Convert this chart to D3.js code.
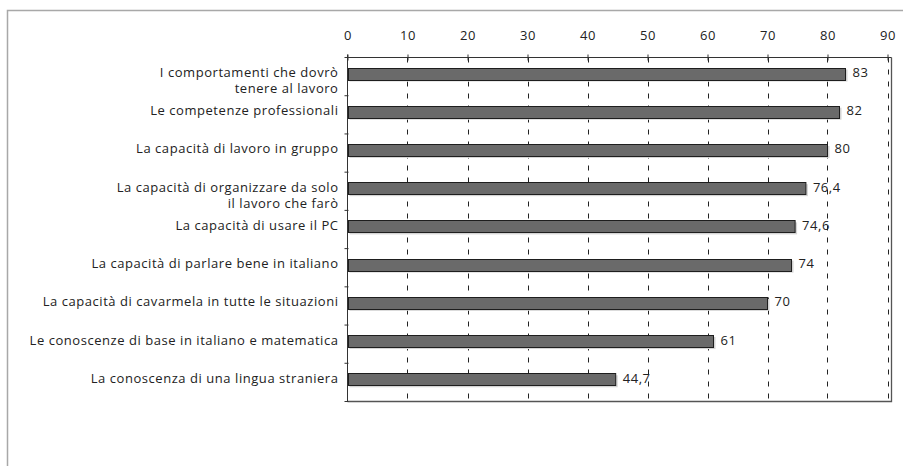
<!DOCTYPE html>
<html>
<head>
<meta charset="utf-8">
<script src="https://cdn.jsdelivr.net/npm/d3@7"></script>
<style>
  html, body { margin: 0; padding: 0; background: #fff; }
  svg { display: block; }
  text { font-family: "Open Sans", "DejaVu Sans", sans-serif; font-size: 13px; letter-spacing: 0.55px; fill: #222; }
</style>
</head>
<body>
<svg id="chart" width="903" height="466"></svg>
<script>
const categories = [
  ["I comportamenti che dovrò", "tenere al lavoro"],
  ["Le competenze professionali"],
  ["La capacità di lavoro in gruppo"],
  ["La capacità di organizzare da solo", "il lavoro che farò"],
  ["La capacità di usare il PC"],
  ["La capacità di parlare bene in italiano"],
  ["La capacità di cavarmela in tutte le situazioni"],
  ["Le conoscenze di base in italiano e matematica"],
  ["La conoscenza di una lingua straniera"]
];
const values = [83, 82, 80, 76.4, 74.6, 74, 70, 61, 44.7];
const valueLabels = ["83", "82", "80", "76,4", "74,6", "74", "70", "61", "44,7"];
const xTicks = [0, 10, 20, 30, 40, 50, 60, 70, 80, 90];

(function () {
const svg = d3.select("#chart");
const FONT = "Open Sans, DejaVu Sans, sans-serif";

// outer frame (only left and top visible)
svg.append("path").attr("d", "M7.5,466 V10.5 H903")
  .attr("fill", "none").attr("stroke", "#a8a8a8").attr("stroke-width", 1.5);

const pL = 347.5, pR = 887.5, pT = 57.5, pB = 401.5, boxRight = 891.5;
const x = d3.scaleLinear().domain([0, 90]).range([pL, pR]);
const y = d3.scaleBand().domain(d3.range(categories.length)).range([pT, pB]);

// gridlines
svg.append("g").selectAll("line").data(xTicks.slice(1)).join("line")
  .attr("x1", d => Math.round(x(d)) + 0.5).attr("x2", d => Math.round(x(d)) + 0.5)
  .attr("y1", pT).attr("y2", pB)
  .attr("stroke", "#222").attr("stroke-width", 1).attr("stroke-dasharray", "5,7");

// plot box (right and bottom)
svg.append("path").attr("d", `M${pL},${pB} H${boxRight} V${pT}`)
  .attr("fill", "none").attr("stroke", "#555").attr("stroke-width", 1.3);

// top axis
const xAxis = d3.axisTop(x).tickValues(xTicks).tickSize(3).tickPadding(15).tickFormat(d3.format("d"));
const gx = svg.append("g").attr("transform", `translate(0,${pT})`).call(xAxis);
gx.select(".domain").attr("d", `M${pL},0 H${boxRight}`).attr("stroke", "#333");
gx.selectAll(".tick line").attr("y1", -3).attr("y2", 3).attr("stroke", "#333");
gx.selectAll(".tick text").style("font-family", FONT).style("font-size", "13px").attr("fill", "#222");

// left axis with band boundary ticks
const bounds = d3.range(categories.length + 1).map(i => pT + i * y.step());
svg.append("line").attr("x1", pL).attr("x2", pL).attr("y1", pT - 3).attr("y2", pB)
  .attr("stroke", "#333");
svg.append("g").selectAll("line").data(bounds).join("line")
  .attr("x1", pL - 3).attr("x2", pL + 1).attr("y1", d => d).attr("y2", d => d)
  .attr("stroke", "#333");

const barH = 12, barOff = 10;

// shadows
svg.append("g").selectAll("rect").data(values).join("rect")
  .attr("x", pL + 2).attr("y", (d, i) => y(i) + barOff + 2)
  .attr("width", d => x(d) - pL).attr("height", barH)
  .attr("fill", "#d4d4d4");

// bars
svg.append("g").selectAll("rect").data(values).join("rect")
  .attr("x", pL + 1).attr("y", (d, i) => Math.round(y(i) + barOff) + 0.5)
  .attr("width", d => x(d) - pL - 1).attr("height", barH)
  .attr("fill", "#6a6a6a").attr("stroke", "#1e1e1e").attr("stroke-width", 1);

// value labels
svg.append("g").selectAll("text").data(values).join("text")
  .attr("x", d => x(d) + 7).attr("y", (d, i) => y(i) + barOff + barH / 2)
  .attr("dominant-baseline", "middle")
  .text((d, i) => valueLabels[i]);

// category labels
const labG = svg.append("g");
categories.forEach((lines, i) => {
  const cy = y(i) + barOff + barH / 2 + 0.5;
  const t = labG.append("text").attr("text-anchor", "end").attr("dominant-baseline", "middle");
  lines.forEach((ln, j) => {
    t.append("tspan").attr("x", pL - 9).attr("y", cy + j * 16).text(ln);
  });
});
})();
</script>
</body>
</html>
